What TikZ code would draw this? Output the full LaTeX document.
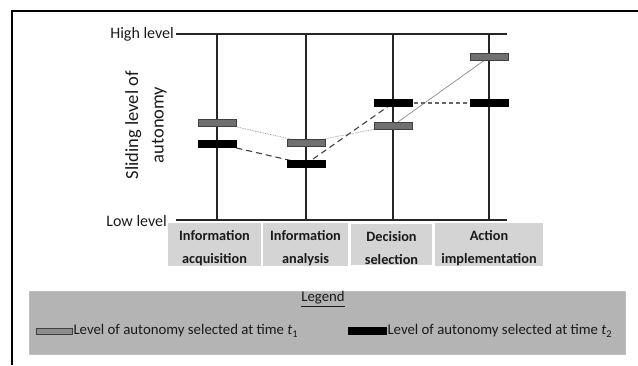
\documentclass[tikz,border=0pt]{standalone}
\usepackage{fontspec}
\setmainfont{Carlito}
\usetikzlibrary{backgrounds}
\definecolor{barg}{HTML}{707070}
\definecolor{labbox}{HTML}{D4D4D4}
\definecolor{legbox}{HTML}{B4B4B4}
\definecolor{txt}{HTML}{1A1A1A}
\newcommand{\upstrut}{\rule{0pt}{17pt}}
\tikzset{
  axisline/.style={line width=1.6pt, black!85},
  pole/.style={line width=1.3pt, black!85},
  barone/.style={draw=black!75, fill=barg, line width=0.6pt, minimum width=38pt, minimum height=7pt, inner sep=0pt},
  bartwo/.style={draw=black, fill=black, line width=0.6pt, minimum width=38pt, minimum height=7pt, inner sep=0pt},
  lablbox/.style={fill=labbox, inner sep=0pt, font=\fontsize{14.3}{23}\selectfont\bfseries, text=txt, align=center},
  levtext/.style={font=\fontsize{16}{18}\selectfont, text=txt},
  legtext/.style={font=\fontsize{14.8}{17}\selectfont, text=txt},
  tline/.style={draw=black!45, line width=0.7pt},
  dline/.style={draw=black!75, line width=1.1pt, dash pattern=on 6pt off 4pt},
}
\begin{document}
\begin{tikzpicture}[x=1pt,y=-1pt]
\useasboundingbox (0,0) rectangle (638,365);
% frame
\draw[line width=2pt] (12,365) -- (12,11) -- (638,11);
% axis lines
\coordinate (hl) at (176,34); \coordinate (hr) at (507,34);
\coordinate (ll) at (176,220); \coordinate (lr) at (507,220);
\draw[axisline] (hl) -- (hr);
\draw[axisline] (ll) -- (lr);
\node[levtext, anchor=east, inner sep=2pt] (high) at (hl) {High level};
\node[levtext, anchor=east, inner sep=0pt] (low) at ([xshift=-9pt,yshift=-1pt]ll) {Low level};
% poles
\foreach \i/\x in {1/217,2/306,3/393,4/489} {
  \coordinate (t\i) at (\x,34);
  \coordinate (u\i) at (\x,220);
  \draw[pole] (t\i) -- (u\i);
}
% y label
\node[rotate=90, align=center, font=\fontsize{18.5}{25.5}\selectfont, text=txt] (ylab) at (146,125) {Sliding level of\\autonomy};
% bars
\node[barone] (g1) at (217,122.5) {};
\node[bartwo] (b1) at (217,143.5) {};
\node[barone] (g2) at (306,142.5) {};
\node[bartwo] (b2) at (306,164) {};
\node[barone] (g3) at (393,125.5) {};
\node[bartwo] (b3) at (393,103) {};
\node[barone] (g4) at (489,57) {};
\node[bartwo] (b4) at (489,103) {};
\begin{pgfonlayer}{background}
\draw[tline, densely dotted] (g1.center) -- (g2.center) -- (g3.center);
\draw[tline] (g3.center) -- (g4.center);
\draw[dline] (b1.center) -- (b2.center) -- (b3.center);
\draw[dline, dash pattern=on 4pt off 3pt, draw=black!60] (b3.center) -- (b4.center);
\end{pgfonlayer}
% category boxes
\node[lablbox, minimum width=93pt, minimum height=41pt] (c1) at (214.5,244.5) {\upstrut Information\\acquisition};
\node[lablbox, minimum width=85pt, minimum height=41pt] (c2) at (305.5,244.5) {\upstrut Information\\analysis};
\node[lablbox, minimum width=81pt, minimum height=41pt] (c3) at (391.5,244.5) {\upstrut Decision\\selection};
\node[lablbox, minimum width=108pt, minimum height=41pt] (c4) at (489,244.5) {\upstrut Action\\implementation};
% legend
\node[fill=legbox, draw=black!25, line width=0.4pt, minimum width=596pt, minimum height=63pt, inner sep=0pt] (leg) at (327,322.5) {};
\node[legtext] (legt) at (323,299) {\underline{Legend}};
\node[barone, minimum width=36pt, minimum height=6pt, fill=barg!80] (lg) at (54,331) {};
\node[legtext, anchor=west, inner sep=1pt] (lgt) at (lg.east) {Level of autonomy selected at time \textit{t}\textsubscript{1}};
\node[bartwo, minimum width=38pt, minimum height=7pt] (lb) at (367,331) {};
\node[legtext, anchor=west, inner sep=1pt] (lbt) at (lb.east) {Level of autonomy selected at time \textit{t}\textsubscript{2}};
\end{tikzpicture}
\end{document}
